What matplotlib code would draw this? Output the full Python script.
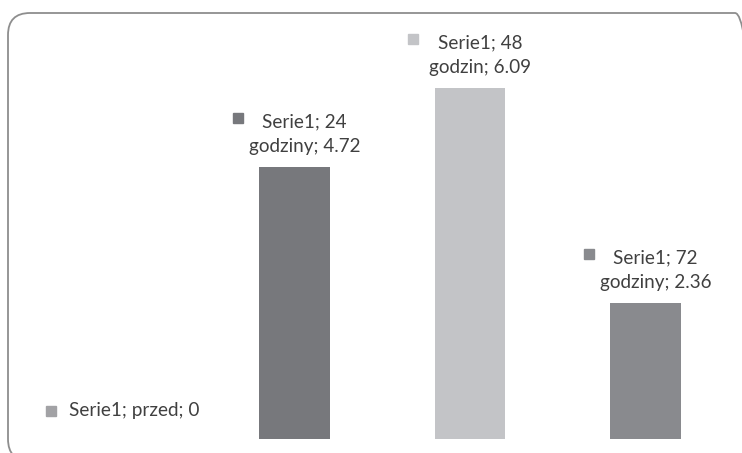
import matplotlib
matplotlib.use("Agg")
import matplotlib.pyplot as plt
from matplotlib.patches import FancyBboxPatch
from matplotlib.transforms import ScaledTranslation

plt.rcParams['font.family'] = ['Lato', 'DejaVu Sans']

categories = ['przed', '24 godziny', '48 godzin', '72 godziny']
values = [0, 4.72, 6.09, 2.36]
labels = ['Serie1; przed; 0', 'Serie1; 24\ngodziny; 4.72',
          'Serie1; 48\ngodzin; 6.09', 'Serie1; 72\ngodziny; 2.36']
colors = ['#a2a2a5', '#77787c', '#c3c4c7', '#898a8e']

text_color = '#404040'
px = 0.72  # points per pixel at dpi 100

fig = plt.figure(figsize=(7.42, 4.53), dpi=100)

# rounded chart frame, cut off by the right and bottom edges
frame = FancyBboxPatch((0.08, -0.08), 7.49, 4.48, boxstyle="round,pad=0,rounding_size=0.22",
                       transform=fig.dpi_scale_trans, facecolor='none',
                       edgecolor='#8e8e8e', linewidth=1.3, zorder=0)
fig.patches.append(frame)

ax = fig.add_axes([31.25 / 742, (453 - 439) / 453, 702 / 742, 426 / 453])
ax.set_xlim(-0.5, 3.5)
ax.set_ylim(0, 426 / 57.6)
ax.axis('off')

x = list(range(len(categories)))
ax.bar(x, values, width=0.4, color=colors, edgecolor='none')

for i, (v, lab, c) in enumerate(zip(values, labels, colors)):
    if '\n' in lab:
        tx, ty = 10, 12
        mx, my = -57, 49
    else:
        tx, ty = 15, 20
        mx, my = -68, 28
    ax.annotate(lab, (i, v), xytext=(tx * px, ty * px), textcoords='offset points',
                ha='center', va='bottom', multialignment='center',
                fontsize=13.6, color=text_color, linespacing=1.55)
    ax.plot([i], [v], marker='s', markersize=10 * px, color=c, linestyle='none',
            transform=ax.transData + ScaledTranslation(mx / 100, my / 100, fig.dpi_scale_trans),
            clip_on=False)

fig.savefig('out.png', dpi=100)
